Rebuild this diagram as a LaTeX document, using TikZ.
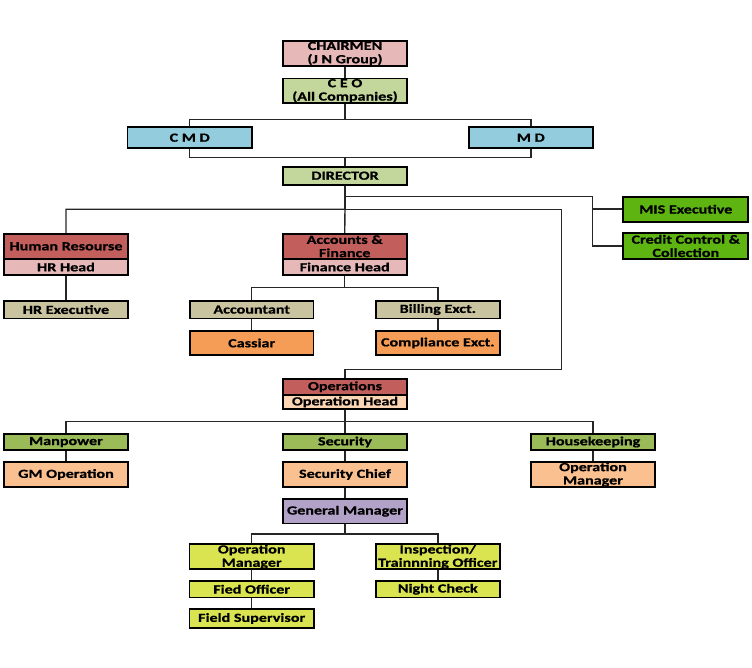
\documentclass[tikz,border=0pt]{standalone}
\usepackage{fontspec}
\setmainfont{Carlito}[FakeStretch=1.3, BoldFeatures={FakeBold=0.8}]
\definecolor{cPink}{HTML}{E6B9B8}
\definecolor{cOlive}{HTML}{C3D69B}
\definecolor{cBlue}{HTML}{93CDDD}
\definecolor{cRed}{HTML}{C25E5B}
\definecolor{cPeach}{HTML}{FCD5B4}
\definecolor{cTan}{HTML}{C9C3A0}
\definecolor{cOrange}{HTML}{F59D56}
\definecolor{cGreen}{HTML}{5EB512}
\definecolor{cMid}{HTML}{9BBB59}
\definecolor{cLOrange}{HTML}{FAC090}
\definecolor{cPurple}{HTML}{B2A2C7}
\definecolor{cYellow}{HTML}{DAE450}
\tikzset{
  box/.style={draw=black, line width=1.7pt, rectangle, inner sep=0pt, align=center,
    font=\bfseries\fontsize{12.4}{13.3}\selectfont, text=black},
  link/.style={draw=black!85, line width=1.4pt},
}
\begin{document}
\begin{tikzpicture}[x=1pt,y=-1pt]
\useasboundingbox (0,0) rectangle (752,668);
% top
\node[box, fill=cPink, minimum width=124, minimum height=25] (chair) at (345,53.5) {CHAIRMEN\\(J N Group)};
\node[box, fill=cOlive, minimum width=124, minimum height=24.3] (ceo) at (345,90.8) {C E O\\(All Companies)};
\node[box, fill=cBlue, minimum width=124.7, minimum height=20.7] (cmd) at (189.7,137.7) {C M D};
\node[box, fill=cBlue, minimum width=124.3, minimum height=20.7] (md) at (530.8,137.7) {M D};
\node[box, fill=cOlive, minimum width=124, minimum height=18] (dir) at (345,175.7) {DIRECTOR};
\node[box, fill=cGreen, minimum width=125, minimum height=25] (mis) at (685.8,209.2) {MIS Executive};
\node[box, fill=cGreen, minimum width=125, minimum height=25.4] (credit) at (685.8,246) {Credit Control \&\\Collection};
% departments
\node[box, fill=cRed, minimum width=124, minimum height=24.7] (hr) at (66,246.3) {Human Resourse};
\node[box, fill=cPink, minimum width=124, minimum height=16.6] (hrhead) at (66,267) {HR Head};
\node[box, fill=cRed, minimum width=124, minimum height=24.7] (acc) at (344.7,246.3) {Accounts \&\\Finance};
\node[box, fill=cPink, minimum width=124, minimum height=16.6] (acchead) at (344.7,267) {Finance Head};
\node[box, fill=cTan, minimum width=124, minimum height=17.8] (hrexec) at (66,309.6) {HR Executive};
\node[box, fill=cTan, minimum width=123.3, minimum height=17.8] (accountant) at (251.7,309.6) {Accountant};
\node[box, fill=cTan, minimum width=124.3, minimum height=17.8] (billing) at (437.8,309.6) {Billing Exct.};
\node[box, fill=cOrange, minimum width=123.3, minimum height=24] (cassiar) at (251.7,343) {Cassiar};
\node[box, fill=cOrange, minimum width=124.3, minimum height=24] (compliance) at (437.8,343) {Compliance Exct.};
% operations
\node[box, fill=cRed, minimum width=124, minimum height=15.7] (ops) at (345,386.8) {Operations};
\node[box, fill=cPeach, minimum width=124, minimum height=14.6] (opshead) at (345,402) {Operation Head};
\node[box, fill=cMid, minimum width=124, minimum height=16] (manpower) at (66,442) {Manpower};
\node[box, fill=cMid, minimum width=124, minimum height=16] (security) at (345,442) {Security};
\node[box, fill=cMid, minimum width=124, minimum height=16] (housekeeping) at (593,442) {Housekeeping};
\node[box, fill=cLOrange, minimum width=124, minimum height=24.4] (gmop) at (66,474.5) {GM Operation};
\node[box, fill=cLOrange, minimum width=124, minimum height=24.4] (secchief) at (345,474.5) {Security Chief};
\node[box, fill=cLOrange, minimum width=124, minimum height=24.4] (opmgr) at (593,474.5) {Operation\\Manager};
\node[box, fill=cPurple, minimum width=124, minimum height=24.3] (genmgr) at (345,511.2) {General Manager};
\node[box, fill=cYellow, minimum width=124.7, minimum height=25] (opmgrtwo) at (251.7,556.8) {Operation\\Manager};
\node[box, fill=cYellow, minimum width=124.3, minimum height=25] (insp) at (437.8,556.8) {Inspection/\\Trainnning Officer};
\node[box, fill=cYellow, minimum width=124.7, minimum height=16.3] (fied) at (251.7,589.2) {Fied Officer};
\node[box, fill=cYellow, minimum width=124.3, minimum height=16.3] (night) at (437.8,589.2) {Night Check};
\node[box, fill=cYellow, minimum width=124.7, minimum height=18.4] (fieldsup) at (251.7,618.5) {Field Supervisor};
% junctions
\coordinate (b1) at (345,119.3);
\coordinate (b2) at (345,157.3);
\coordinate (d0) at (345,196.7);
\coordinate (mx) at (592.7,196.7);
\coordinate (d1) at (345,209.3);
\coordinate (r1) at (561.7,209.3);
\coordinate (r2) at (561.7,369.3);
\coordinate (f1) at (344.7,287.7);
\coordinate (o1) at (345,421.7);
\coordinate (g1) at (345,534);
% connectors
\draw[link] (chair.south) -- (ceo.north);
\draw[link] (ceo.south) -- (b1);
\draw[link] (cmd.north) |- (b1) -| (md.north);
\draw[link] (cmd.south) |- (b2) -| (md.south);
\draw[link] (b2) -- (dir.north);
\draw[link] (dir.south) -- (d1);
\draw[link] (d0) -- (mx) |- (credit.west);
\draw[link] (mx |- mis.west) -- (mis.west);
\draw[link] (hr.north) |- (d1) -- (acc.north);
\draw[link] (d1) -- (r1) -- (r2) -| (ops.north);
\draw[link] (hrhead.south) -- (hrexec.north);
\draw[link] (acchead.south) -- (f1);
\draw[link] (accountant.north) |- (f1) -| (billing.north);
\draw[link] (accountant.south) -- (cassiar.north);
\draw[link] (billing.south) -- (compliance.north);
\draw[link] (opshead.south) -- (o1);
\draw[link] (manpower.north) |- (o1) -| (housekeeping.north);
\draw[link] (o1) -- (security.north);
\draw[link] (manpower.south) -- (gmop.north);
\draw[link] (security.south) -- (secchief.north);
\draw[link] (housekeeping.south) -- (opmgr.north);
\draw[link] (secchief.south) -- (genmgr.north);
\draw[link] (genmgr.south) -- (g1);
\draw[link] (opmgrtwo.north) |- (g1) -| (insp.north);
\draw[link] (opmgrtwo.south) -- (fied.north);
\draw[link] (fied.south) -- (fieldsup.north);
\draw[link] (insp.south) -- (night.north);
\end{tikzpicture}
\end{document}
